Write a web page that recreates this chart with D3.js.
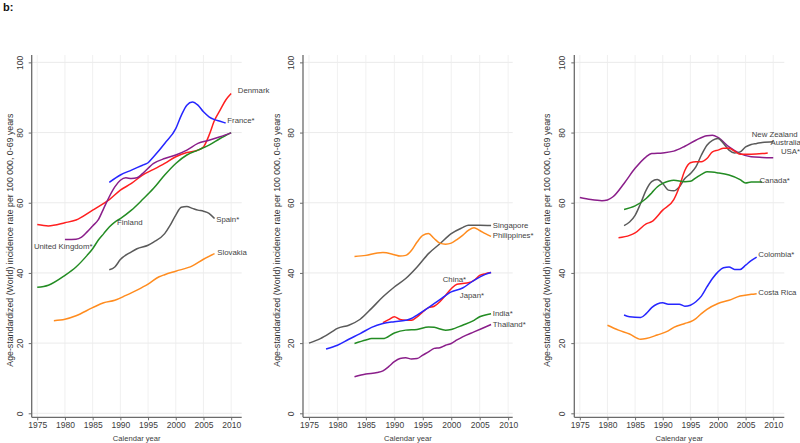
<!DOCTYPE html>
<html><head><meta charset="utf-8">
<script src="https://cdn.jsdelivr.net/npm/d3@7"></script>
<style>
body{margin:0;background:#fff}
svg{display:block}
text{font-family:Arial,"Liberation Sans",sans-serif}
</style>
</head><body>
<svg id="chart" width="800" height="443"></svg>
<script>
// ---------- DATA ----------
const yearTicks = [1975, 1980, 1985, 1990, 1995, 2000, 2005, 2010];
const valueTicks = [0, 20, 40, 60, 80, 100];
const xTitle = "Calendar year";
const yTitle = "Age-standardized (World) incidence rate per 100 000, 0-69 years";

// Panel 1 (Europe)
const denmark = [[1975,53.8],[1977,53.4],[1980,54.3],[1982,55.1],[1985,57.9],[1987,59.8],[1988,60.9],[1990,63.6],[1992,65.5],[1994,67.9],[1996,69.5],[1998,71.2],[2000,73.1],[2002,74.3],[2004,75],[2005,75.9],[2006,79.2],[2007,83.5],[2008,86.4],[2009,89.2],[2010,91.1]];
const france = [[1988,65.8],[1990,67.9],[1992,69.3],[1994,70.7],[1995,71.4],[1996,73.1],[1998,76.9],[2000,81.1],[2001,84.9],[2002,87.8],[2003,88.7],[2004,87.8],[2005,85.9],[2006,84.5],[2007,83.7],[2008,83.2],[2009,82.7]];
const finland = [[1975,35.9],[1977,36.5],[1980,39.3],[1982,41.7],[1984,45],[1985,46.9],[1986,49.3],[1987,51.2],[1988,53.1],[1989,54.5],[1990,55.5],[1992,57.9],[1994,60.9],[1996,64.1],[1998,67.9],[2000,71.2],[2002,73.6],[2004,75],[2006,76.4],[2008,78.3],[2010,80]];
const unitedKingdom = [[1980,49.5],[1982,49.6],[1983,50.2],[1984,51.7],[1985,53.4],[1986,55.1],[1987,58.4],[1988,61.7],[1989,64.5],[1990,66.4],[1991,67.1],[1992,66.9],[1993,67.1],[1994,68.3],[1996,71.2],[1998,72.6],[2000,73.6],[2002,75],[2004,76.9],[2006,77.8],[2008,78.8],[2010,79.9]];
const spain = [[1988,40.9],[1989,41.7],[1990,43.8],[1992,46],[1993,46.9],[1995,47.9],[1996,48.8],[1998,51.2],[1999,53.6],[2000,56.5],[2001,58.7],[2002,58.9],[2003,58.4],[2004,57.9],[2005,57.6],[2006,57],[2007,55.5]];
const slovakia = [[1978,26.4],[1980,26.8],[1982,27.8],[1985,30.1],[1987,31.5],[1989,32.2],[1991,33.6],[1993,35.1],[1995,36.8],[1997,38.9],[1998,39.5],[2000,40.5],[2003,42],[2005,43.9],[2007,45.5]];

// Panel 2 (Asia)
const singapore = [[1975,20],[1977,21.3],[1979,23.2],[1980,24.2],[1982,25.1],[1984,26.8],[1986,29.9],[1988,33.2],[1990,36],[1992,38.4],[1994,41.7],[1996,45.5],[1998,48.3],[2000,51.2],[2002,52.9],[2003,53.6],[2005,53.6],[2007,53.5]];
const philippines = [[1983,44.7],[1985,45],[1987,45.7],[1988,45.8],[1990,45.2],[1991,44.8],[1992,45],[1993,46.4],[1994,48.8],[1995,50.7],[1996,51.2],[1997,49.8],[1998,48.5],[1999,48.2],[2000,48.5],[2001,49.5],[2002,50.7],[2003,52.1],[2004,52.9],[2005,52.1],[2006,51.2],[2007,50.4]];
const china = [[1988,25.8],[1989,26.7],[1990,27.5],[1991,26.7],[1992,26.5],[1993,26.5],[1994,27.5],[1995,28.9],[1996,30.1],[1997,30.5],[1998,31.8],[1999,33.6],[2000,35.5],[2001,36.8],[2002,37],[2003,37.2],[2004,37.9],[2005,39.3],[2006,39.8],[2007,40.1]];
const japan = [[1978,18.3],[1980,19.4],[1982,21.1],[1984,22.7],[1986,24.5],[1988,25.6],[1990,26.1],[1992,26.5],[1993,27],[1994,28],[1996,30.1],[1998,32.4],[2000,34.6],[2002,35.7],[2004,37.9],[2006,39.6],[2007,40.1]];
const india = [[1983,19.9],[1985,20.9],[1986,21.3],[1988,21.3],[1990,22.9],[1992,23.7],[1994,23.9],[1996,24.6],[1997,24.5],[1999,23.7],[2000,23.9],[2002,25.1],[2004,26.5],[2005,27.5],[2007,28.4]];
const thailand = [[1983,10.4],[1985,11.2],[1987,11.6],[1988,12.1],[1989,13.3],[1990,14.7],[1991,15.6],[1992,15.8],[1993,15.5],[1994,15.6],[1995,16.6],[1996,17.5],[1997,18.5],[1998,18.7],[1999,19.4],[2000,19.9],[2001,20.9],[2002,21.8],[2004,23.2],[2006,24.6],[2007,25.3]];

// Panel 3 (Americas / Oceania)
const usa = [[1975,61.5],[1977,60.9],[1979,60.6],[1980,60.8],[1981,61.7],[1983,65.5],[1985,69.8],[1987,73.1],[1988,74],[1990,74.2],[1992,74.7],[1994,76.1],[1996,77.8],[1998,79.1],[1999,79.2],[2000,78.6],[2002,75.9],[2004,74],[2006,73.1],[2008,72.9],[2010,72.8]];
const newZealand = [[1983,53.5],[1984,54.5],[1985,56.4],[1986,59.8],[1987,63.6],[1988,66],[1989,66.6],[1990,65.5],[1991,63.6],[1992,63.4],[1993,64.5],[1994,66.9],[1995,68.3],[1996,70.2],[1997,73.6],[1998,76.4],[1999,77.8],[2000,78.3],[2001,76.9],[2002,75],[2003,74.2],[2004,74.5],[2005,75.9],[2006,76.6],[2007,76.9],[2008,77.2],[2010,77.4]];
const australia = [[1982,50],[1984,50.7],[1985,51.4],[1987,54],[1988,54.6],[1990,57.9],[1992,60.9],[1993,64.5],[1994,69.2],[1995,71.4],[1996,71.7],[1997,71.7],[1998,72.6],[1999,74.5],[2000,75],[2001,75.5],[2002,75.5],[2003,74.7],[2004,73.8],[2006,73.8],[2008,74],[2009,74.2]];
const canada = [[1983,58.1],[1985,59.1],[1987,61.2],[1988,62.8],[1989,64.5],[1990,65.5],[1991,66.1],[1992,66.4],[1994,66],[1995,66.1],[1996,67.1],[1997,68.1],[1998,68.8],[2000,68.5],[2002,67.9],[2004,66.6],[2005,65.6],[2006,65.9],[2008,65.9]];
const colombia = [[1983,28],[1984,27.5],[1986,27.3],[1987,28.4],[1988,30.1],[1990,31.5],[1991,31.1],[1993,31.1],[1994,30.5],[1995,30.8],[1996,31.8],[1997,33.4],[1998,36],[1999,38.4],[2000,40.3],[2001,41.5],[2002,41.7],[2003,41],[2004,41],[2005,42.2],[2006,43.5],[2007,44.5]];
const costaRica = [[1980,25.1],[1982,23.7],[1984,22.6],[1986,21.1],[1987,21.3],[1989,22.3],[1991,23.5],[1992,24.5],[1994,25.6],[1995,26.1],[1996,27],[1997,28.4],[1998,29.6],[2000,31.3],[2002,32.2],[2004,33.4],[2006,33.9],[2007,34.1]];

// Labels: [text, year, value] anchor in data units
const labels1 = [["Denmark",2011.2,92.1],["France*",2009.3,83.6],["Finland",1989.4,54.5],["Spain*",2007.3,55.3],["United Kingdom*",1974.4,47.7],["Slovakia",2007.5,46.0]];
const labels2 = [["Singapore",2007.3,53.7],["Philippines*",2007.3,50.8],["China*",1998.5,38.2],["Japan*",2001.5,33.7],["India*",2007.3,28.6],["Thailand*",2007.3,25.4]];
const labels3 = [["New Zealand",2006.1,79.5],["Australia",2009.5,77.1],["USA*",2011.4,74.8],["Canada*",2007.5,66.5],["Colombia*",2007.3,45.2],["Costa Rica",2007.3,34.6]];

// ---------- STYLE ----------
const C = {red:"#ff1f1f", blue:"#2626ff", green:"#238c23", purple:"#8a1e8a", gray:"#5a5a5a", orange:"#ff8c1f"};

const panels = [
  {x0:31.7, x1:241.7, domain:[1974,2011.9], titleX:10,
   series:[[denmark,C.red],[finland,C.green],[unitedKingdom,C.purple],[france,C.blue],[spain,C.gray],[slovakia,C.orange]],
   labels:labels1},
  {x0:303, x1:512.7, domain:[1973.95,2010.8], titleX:277,
   series:[[singapore,C.gray],[philippines,C.orange],[china,C.red],[japan,C.blue],[india,C.green],[thailand,C.purple]],
   labels:labels2},
  {x0:574.3, x1:784.3, domain:[1974,2012], titleX:547,
   series:[[usa,C.purple],[newZealand,C.gray],[australia,C.red],[canada,C.green],[colombia,C.blue],[costaRica,C.orange]],
   labels:labels3}
];

const svg = d3.select("#chart");
svg.append("text").attr("x",3).attr("y",11).attr("font-size",11).attr("font-weight","bold").attr("fill","#111").text("b:");

const yTop = 55, yBot = 417.3;
const y = d3.scaleLinear().domain([-1.14, 102.1]).range([yBot, yTop]);
const axisColor = "#6b6b6b";
const textColor = "#3c3c3c";

panels.forEach(p => {
  const x = d3.scaleLinear().domain(p.domain).range([p.x0, p.x1]);
  const g = svg.append("g");

  // gridlines
  g.selectAll(".hg").data(valueTicks).enter().append("line")
    .attr("x1", p.x0).attr("x2", p.x1).attr("y1", d => y(d)).attr("y2", d => y(d))
    .attr("stroke", "#e6e6e6").attr("stroke-width", 0.8);
  g.selectAll(".vg").data(yearTicks).enter().append("line")
    .attr("x1", d => x(d)).attr("x2", d => x(d)).attr("y1", yTop).attr("y2", yBot)
    .attr("stroke", "#ececec").attr("stroke-width", 0.8);

  // axes
  const ax = g.append("g").attr("transform", `translate(0,${yBot})`)
    .call(d3.axisBottom(x).tickValues(yearTicks).tickSize(3).tickPadding(2).tickFormat(d3.format("d")));
  const ay = g.append("g").attr("transform", `translate(${p.x0},0)`)
    .call(d3.axisLeft(y).tickValues(valueTicks).tickSize(3).tickPadding(2));
  [ax, ay].forEach(a => {
    a.select(".domain").attr("stroke", axisColor).attr("stroke-width", 1.3);
    a.selectAll(".tick line").attr("stroke", axisColor).attr("stroke-width", 1);
    a.selectAll(".tick text").attr("fill", textColor).attr("font-size", 8.5)
      .attr("font-family", "Arial, 'Liberation Sans', sans-serif");
  });
  ax.select(".domain").attr("d", `M${p.x0},0H${p.x1}`);
  ay.select(".domain").attr("d", `M0,${yTop}V${yBot}`);
  ay.selectAll(".tick text").attr("text-anchor", "middle").attr("dy", 0)
    .attr("transform", "translate(-9,0) rotate(-90)").attr("x", 0);

  // titles
  g.append("text").attr("x", (p.x0 + p.x1) / 2).attr("y", 440.5).attr("text-anchor", "middle")
    .attr("font-size", 7.6).attr("fill", textColor).text(xTitle);
  g.append("text").attr("transform", `translate(${p.titleX},${(yTop + yBot) / 2 + 4}) rotate(-90)`)
    .attr("text-anchor", "middle").attr("dy", "0.35em").attr("font-size", 8.8).attr("fill", "#333").text(yTitle);

  // lines
  const line = d3.line().x(d => x(d[0])).y(d => y(d[1])).curve(d3.curveMonotoneX);
  p.series.forEach(([data, color]) => {
    g.append("path").datum(data).attr("d", line).attr("fill", "none")
      .attr("stroke", color).attr("stroke-width", 1.5).attr("stroke-linejoin", "round");
  });

  // labels
  p.labels.forEach(([t, yr, v]) => {
    g.append("text").attr("x", x(yr)).attr("y", y(v)).attr("dy", "0.35em")
      .attr("font-size", 7.8).attr("fill", "#444").text(t);
  });
});
</script>
</body></html>
